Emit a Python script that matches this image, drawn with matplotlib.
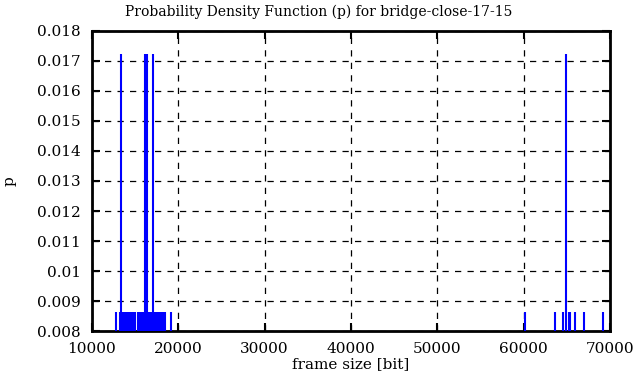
import matplotlib
matplotlib.use("Agg")
import matplotlib.pyplot as plt
import numpy as np

# frame sizes [bit] seen once (p = 1/116) and twice (p = 2/116)
once = [12800, 13200, 13350, 13550, 13700, 13850, 14000, 14150, 14300, 14450,
        14600, 14750, 14900, 14980, 15310, 15450, 15600, 15740, 15880, 16490,
        16650, 16800, 16950, 17300, 17450, 17600, 17750, 17900, 18050, 18200,
        18350, 18500, 19100, 60200, 63590, 64570, 65230, 65420, 65990, 67030,
        69140]
twice = [13400, 16100, 16330, 17110, 64850]
n_frames = 116

plt.rcParams['font.family'] = ['DejaVu Serif']

fig = plt.figure(figsize=(6.37, 3.87), dpi=100)
ax = fig.add_axes([0.1444, 0.1447, 0.8132, 0.7752])

ax.vlines(once, 0, 1 / n_frames, color="#0000ff", linewidth=1.5, zorder=3)
ax.vlines(twice, 0, 2 / n_frames, color="#0000ff", linewidth=1.5, zorder=3)

ax.set_xlim(10000, 70000)
ax.set_ylim(0.008, 0.018)
ax.set_xticks(np.arange(10000, 70001, 10000))
yt = np.arange(0.008, 0.01801, 0.001)
ax.set_yticks(yt)
ax.set_yticklabels(["%g" % round(v, 3) for v in yt])

ax.grid(True, color="black", linestyle=(0, (5, 5)), linewidth=0.9)
ax.tick_params(direction="in", length=6, width=1.5, top=True, right=True,
               labelsize=11)
ax.tick_params(axis="x", pad=8)
ax.tick_params(axis="y", pad=8)
for s in ax.spines.values():
    s.set_linewidth(2)

ax.set_xlabel("frame size [bit]", fontsize=11, labelpad=1)
ax.set_ylabel("p", fontsize=11, labelpad=15)
# gnuplot centres the title on the whole canvas
fig.text(0.5, 1 - 16 / 387, "Probability Density Function (p) for bridge-close-17-15",
         ha="center", va="baseline", fontsize=10)

fig.savefig("out.png", dpi=100)
